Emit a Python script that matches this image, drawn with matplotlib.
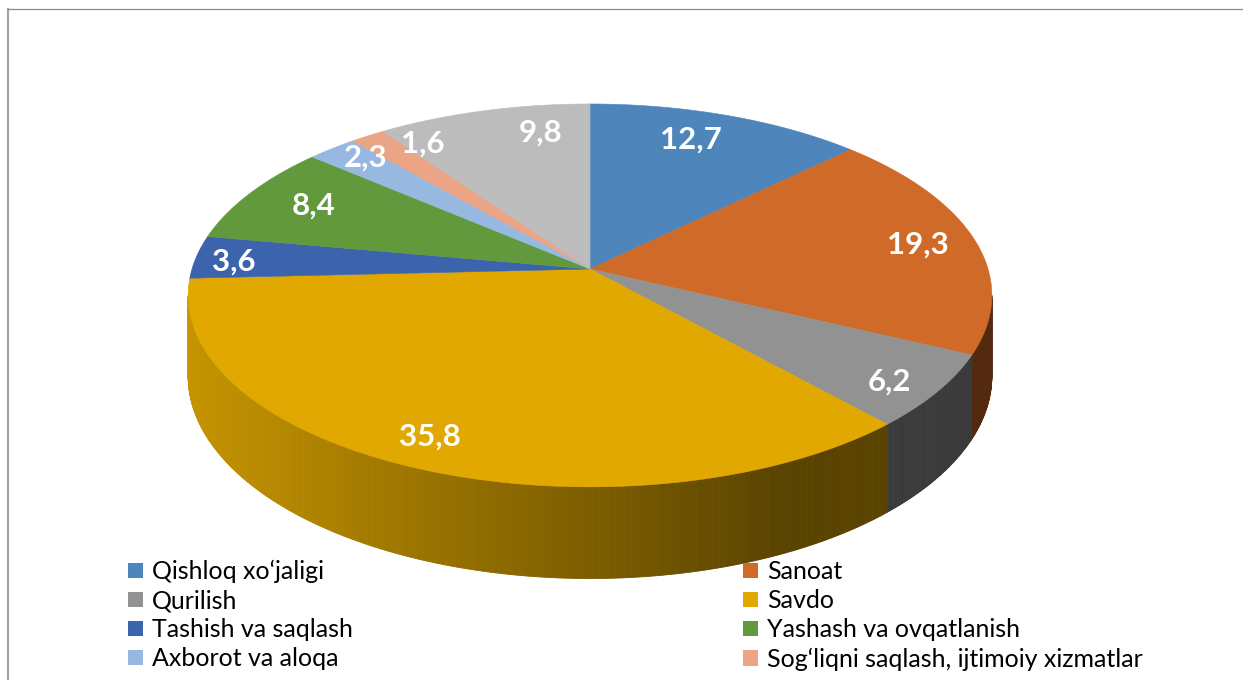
import numpy as np
import matplotlib
matplotlib.use("Agg")
import matplotlib.pyplot as plt
from matplotlib.patches import Polygon, Patch
from matplotlib.collections import PolyCollection

plt.rcParams['font.family'] = ['Lato', 'DejaVu Sans']

# data
categories = ["Qishloq xo\u2018jaligi", "Sanoat", "Qurilish", "Savdo",
              "Tashish va saqlash", "Yashash va ovqatlanish",
              "Axborot va aloqa", "Sog\u2018liqni saqlash, ijtimoiy xizmatlar"]
values = [12.7, 19.3, 6.2, 35.8, 3.6, 8.4, 2.3, 1.6, 9.8]
colors = ["#4E86BC", "#CF6A28", "#929292", "#E0A800", "#3B64AD",
          "#62993D", "#97B8E0", "#EBA586", "#BCBCBC"]

# label placement tweaks (radius, angle shift in deg)
label_r = [0.81, 0.85, 0.89, 0.87, 0.90, 0.81, 0.89, 0.87, 0.82]
label_da = [-2.6, 0.4, 1.9, 1.8, -1.2, 0.7, 1.7, 6.2, 8.1]

# 3d pie geometry (pixels)
CX, CY = 590, 269
RX, RY = 398, 187.8
K = 0.138
DEPTH = 79


def proj(phi, r=1.0):
    t = np.radians(phi)
    a = r * np.sin(t)
    b = r * np.cos(t)
    d = 1 + K * b
    return CX + RX * a / d, CY - RY * b / d


def depth(phi):
    return DEPTH / (1 + K * np.cos(np.radians(phi)))


def shade(x):
    return np.clip(0.87 - 0.00081 * (x - 200), 0.40, 0.9)


fig = plt.figure(figsize=(12.43, 6.8), dpi=100)
ax = fig.add_axes([0, 0, 1, 1])
ax.set_xlim(0, 1243)
ax.set_ylim(680, 0)
ax.axis('off')

total = sum(values)
bounds = np.concatenate([[0], np.cumsum(values)]) / total * 360

# visible front side of the cylinder
side_lo = 180 - np.degrees(np.arccos(K))
side_hi = 180 + np.degrees(np.arccos(K))
for i, c in enumerate(colors):
    p0, p1 = max(bounds[i], side_lo), min(bounds[i + 1], side_hi)
    if p1 <= p0:
        continue
    phis = np.linspace(p0, p1, int((p1 - p0) * 3) + 2)
    polys, fcs = [], []
    base = np.array(matplotlib.colors.to_rgb(c))
    for f0, f1 in zip(phis[:-1], phis[1:]):
        x0, y0 = proj(f0)
        x1, y1 = proj(f1)
        polys.append([(x0, y0), (x1, y1), (x1, y1 + depth(f1)), (x0, y0 + depth(f0))])
        fcs.append(base * shade((x0 + x1) / 2))
    ax.add_collection(PolyCollection(polys, facecolors=fcs, edgecolors=fcs, linewidths=0.6))

# top faces
for i, c in enumerate(colors):
    phis = np.linspace(bounds[i], bounds[i + 1], 200)
    xs, ys = proj(phis)
    pts = [(CX, CY)] + list(zip(xs, ys))
    ax.add_patch(Polygon(pts, closed=True, facecolor=c, edgecolor=c, linewidth=0.4))

# data labels
for i, v in enumerate(values):
    mid = (bounds[i] + bounds[i + 1]) / 2 + label_da[i]
    x, y = proj(mid, label_r[i])
    ax.text(x, y, f"{v:.1f}".replace(".", ","), color="white", fontsize=22.5,
            fontweight="bold", ha="center", va="center")

# frame
ax.plot([8, 8], [9, 700], color="#A6A6A6", lw=1.6, clip_on=False)
ax.plot([8, 1260], [9, 9], color="#8C8C8C", lw=0.9, clip_on=False)

# legend, filled row-wise like the original
order = [0, 2, 4, 6, 1, 3, 5, 7]
handles = [Patch(facecolor=colors[j], edgecolor="none") for j in order]
names = [categories[j] for j in order]
fig.legend(handles, names, loc="upper left", bbox_to_anchor=(128 / 1243, 1 - 560 / 680),
           ncol=2, frameon=False, fontsize=18, handlelength=0.6, handleheight=0.6,
           handletextpad=0.36, columnspacing=15.6, labelspacing=0.24,
           borderpad=0, borderaxespad=0)

fig.savefig("out.png", dpi=100)
